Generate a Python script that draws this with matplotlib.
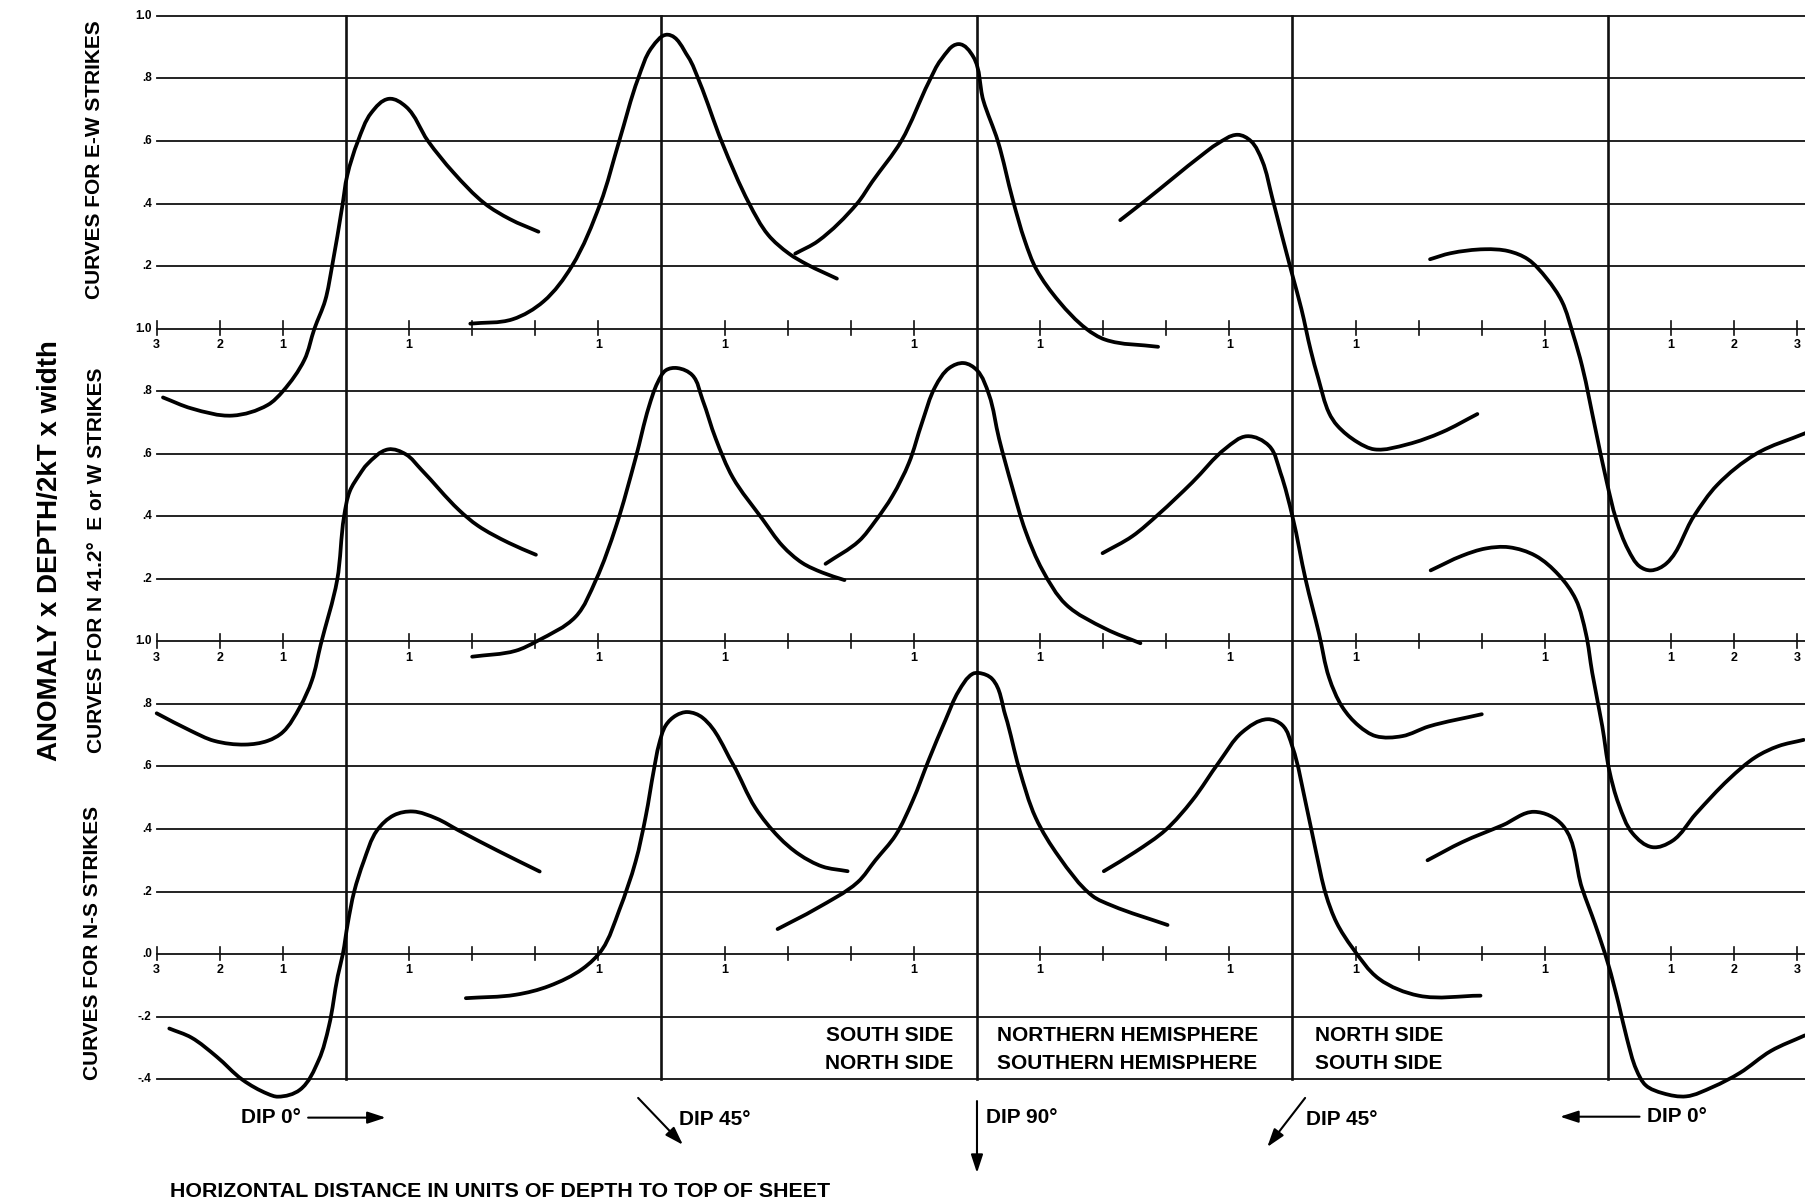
import math
import matplotlib
matplotlib.use("Agg")
import matplotlib.pyplot as plt
from matplotlib.path import Path
from matplotlib.patches import PathPatch

plt.rcParams['font.family'] = ['Liberation Sans', 'DejaVu Sans']

# curves: x in units of depth (dip lines at 0, 5, 10, 15, 20),
# y on each panel's own anomaly scale (panel zero line = its baseline)

# --- E-W strikes (top panel)
ew_dip0_l_x = [-2.9, -2.45, -1.8, -1.24, -1.0, -0.66, -0.5, -0.33, -0.22, -0.06, 0.02, 0.19, 0.4, 0.68, 0.95, 1.3, 1.7, 2.2, 2.6, 3.05]
ew_dip0_l_y = [-0.22, -0.255, -0.278, -0.244, -0.2, -0.10, 0.0, 0.09, 0.2, 0.39, 0.49, 0.6, 0.69, 0.735, 0.71, 0.6, 0.5, 0.4, 0.35, 0.31]
ew_dip45_l_x = [1.97, 2.64, 3.13, 3.58, 4.03, 4.33, 4.63, 4.85, 5.1, 5.42, 5.6, 5.96, 6.39, 6.69, 7.02, 7.31, 7.78]
ew_dip45_l_y = [0.016, 0.03, 0.087, 0.2, 0.4, 0.6, 0.80, 0.90, 0.94, 0.87, 0.79, 0.595, 0.40, 0.30, 0.24, 0.205, 0.16]
ew_dip90_x = [7.12, 7.48, 8.10, 8.34, 8.80, 9.24, 9.43, 9.71, 9.94, 10.1, 10.33, 10.57, 10.76, 10.94, 11.3, 11.73, 12.03, 12.87]
ew_dip90_y = [0.24, 0.28, 0.40, 0.47, 0.60, 0.79, 0.86, 0.91, 0.87, 0.73, 0.60, 0.41, 0.28, 0.19, 0.087, 0.0, -0.035, -0.058]
ew_dip45_r_x = [12.27, 12.67, 13.57, 13.8, 14.13, 14.34, 14.52, 14.68, 14.83, 15.0, 15.14, 15.29, 15.41, 15.58, 15.71, 16.03, 16.3, 16.82, 17.37, 17.93]
ew_dip45_r_y = [0.347, 0.41, 0.556, 0.59, 0.62, 0.60, 0.537, 0.418, 0.30, 0.17, 0.064, -0.07, -0.16, -0.27, -0.31, -0.363, -0.386, -0.37, -0.331, -0.273]
ew_dip0_r_x = [17.18, 17.5, 18.05, 18.42, 18.73, 19.03, 19.27, 19.45, 19.59, 19.8, 19.98, 20.13, 20.32, 20.5, 20.68, 20.93, 21.36, 21.73, 22.35, 23.13]
ew_dip0_r_y = [0.222, 0.241, 0.254, 0.248, 0.222, 0.16, 0.087, -0.02, -0.12, -0.32, -0.49, -0.61, -0.707, -0.76, -0.773, -0.75, -0.60, -0.50, -0.40, -0.334]

# --- N 41.2 E or W strikes (middle panel)
n41_dip0_l_x = [-3.0, -2.46, -2.09, -1.6, -1.24, -1.0, -0.73, -0.54, -0.40, -0.14, -0.03, 0.06, 0.22, 0.33, 0.67, 0.95, 1.19, 1.79, 2.09, 2.58, 3.01]
n41_dip0_l_y = [-0.23, -0.286, -0.318, -0.33, -0.318, -0.29, -0.21, -0.125, -0.01, 0.196, 0.40, 0.48, 0.535, 0.565, 0.614, 0.598, 0.55, 0.42, 0.37, 0.315, 0.277]
n41_dip45_l_x = [2.00, 2.69, 3.03, 3.64, 3.96, 4.28, 4.59, 4.80, 4.94, 5.07, 5.25, 5.49, 5.65, 5.86, 6.13, 6.6, 6.92, 7.23, 7.55, 7.9]
n41_dip45_l_y = [-0.049, -0.030, 0.001, 0.079, 0.196, 0.368, 0.586, 0.75, 0.828, 0.867, 0.874, 0.851, 0.773, 0.648, 0.524, 0.391, 0.305, 0.251, 0.22, 0.196]
n41_dip90_x = [7.6, 8.13, 8.39, 8.66, 8.92, 9.13, 9.34, 9.56, 9.79, 10.0, 10.19, 10.35, 10.56, 10.77, 11.04, 11.41, 12.04, 12.59]
n41_dip90_y = [0.248, 0.321, 0.385, 0.465, 0.57, 0.70, 0.815, 0.874, 0.89, 0.867, 0.789, 0.648, 0.492, 0.352, 0.227, 0.118, 0.040, -0.006]
n41_dip45_r_x = [11.99, 12.46, 12.88, 13.41, 13.94, 14.28, 14.63, 14.81, 15.0, 15.21, 15.42, 15.58, 15.79, 16.05, 16.32, 16.74, 17.16, 18.0]
n41_dip45_r_y = [0.282, 0.336, 0.407, 0.508, 0.617, 0.656, 0.625, 0.539, 0.399, 0.196, 0.025, -0.116, -0.21, -0.27, -0.303, -0.303, -0.272, -0.233]
n41_dip0_r_x = [17.19, 17.69, 18.06, 18.43, 18.85, 19.22, 19.49, 19.65, 19.75, 19.91, 20.02, 20.17, 20.39, 20.7, 21.02, 21.39, 21.92, 22.34, 22.7, 23.1]
n41_dip0_r_y = [0.227, 0.274, 0.297, 0.301, 0.274, 0.212, 0.134, 0.025, -0.10, -0.272, -0.412, -0.521, -0.614, -0.658, -0.638, -0.552, -0.44, -0.37, -0.335, -0.315]

# --- N-S strikes (bottom panel)
ns_dip0_l_x = [-2.8, -2.45, -2.05, -1.64, -1.24, -1.08, -0.73, -0.43, -0.27, -0.13, -0.05, 0.03, 0.13, 0.28, 0.49, 0.76, 1.06, 1.43, 1.79, 2.4, 3.07]
ns_dip0_l_y = [-0.238, -0.267, -0.328, -0.402, -0.447, -0.456, -0.434, -0.338, -0.23, -0.07, 0.0, 0.10, 0.2, 0.296, 0.395, 0.444, 0.456, 0.434, 0.395, 0.331, 0.264]
ns_dip45_l_x = [1.90, 2.69, 3.22, 3.75, 4.06, 4.33, 4.59, 4.75, 4.88, 4.96, 5.07, 5.23, 5.41, 5.65, 6.13, 6.49, 6.86, 7.18, 7.55, 7.95]
ns_dip45_l_y = [-0.141, -0.13, -0.102, -0.047, 0.015, 0.14, 0.296, 0.44, 0.59, 0.67, 0.732, 0.763, 0.774, 0.756, 0.608, 0.467, 0.374, 0.319, 0.28, 0.265]
ns_dip90_x = [6.84, 7.45, 8.11, 8.39, 8.71, 8.98, 9.24, 9.5, 9.71, 9.93, 10.03, 10.24, 10.45, 10.67, 10.93, 11.3, 11.83, 12.14, 13.02]
ns_dip90_y = [0.08, 0.145, 0.23, 0.30, 0.38, 0.49, 0.623, 0.748, 0.841, 0.896, 0.899, 0.88, 0.763, 0.592, 0.436, 0.311, 0.186, 0.155, 0.093]
ns_dip45_r_x = [12.01, 12.51, 12.99, 13.41, 13.84, 14.2, 14.6, 14.84, 15.0, 15.21, 15.37, 15.53, 15.7, 15.95, 16.37, 17.0, 17.98]
ns_dip45_r_y = [0.265, 0.327, 0.397, 0.491, 0.615, 0.709, 0.751, 0.732, 0.662, 0.483, 0.33, 0.19, 0.10, 0.02, -0.079, -0.133, -0.133]
ns_dip0_r_x = [17.14, 17.69, 18.33, 18.83, 19.28, 19.59, 19.8, 20.0, 20.17, 20.3, 20.45, 20.6, 20.87, 21.24, 21.66, 22.09, 22.58, 23.12]
ns_dip0_r_y = [0.3, 0.358, 0.412, 0.455, 0.412, 0.21, 0.093, -0.03, -0.16, -0.27, -0.37, -0.42, -0.445, -0.455, -0.425, -0.38, -0.31, -0.26]

# panel baselines on the common vertical scale
ew_base = 2.0
n41_base = 1.0
ns_base = 0.0

# grid rows and their labels (top to bottom)
row_pos = [3.0, 2.8, 2.6, 2.4, 2.2, 2.0, 1.8, 1.6, 1.4, 1.2, 1.0, 0.8, 0.6, 0.4, 0.2, 0.0, -0.2, -0.4]
row_text = ["1.0", ".8", ".6", ".4", ".2", "1.0", ".8", ".6", ".4", ".2",
            "1.0", ".8", ".6", ".4", ".2", ".0", "-.2", "-.4"]

dip_lines = [0, 5, 10, 15, 20]
tick_x = [-3, -2, -1, 1, 2, 3, 4, 6, 7, 8, 9, 11, 12, 13, 14, 16, 17, 18, 19, 21, 22, 23]
tick_lab_x = [-3, -2, -1, 1, 4, 6, 9, 11, 14, 16, 19, 21, 22, 23]
tick_lab = ["3", "2", "1", "1", "1", "1", "1", "1", "1", "1", "1", "1", "2", "3"]

# approximate pixels per data unit, used only to shape the curve handles
PX_X = 63.1
PX_Y = 312.7


def smooth_path(xs, ys):
    # cubic Bezier pieces through every read point, tangents from unit chords
    pts = [(x * PX_X, y * PX_Y) for x, y in zip(xs, ys)]
    n = len(pts)

    def unit(a, b):
        dx, dy = b[0] - a[0], b[1] - a[1]
        d = math.hypot(dx, dy) or 1.0
        return dx / d, dy / d

    tans = []
    for i in range(n):
        if i == 0:
            tans.append(unit(pts[0], pts[1]))
        elif i == n - 1:
            tans.append(unit(pts[-2], pts[-1]))
        else:
            a = unit(pts[i - 1], pts[i])
            b = unit(pts[i], pts[i + 1])
            tans.append(unit((0, 0), (a[0] + b[0], a[1] + b[1])))

    verts = [pts[0]]
    codes = [Path.MOVETO]
    for i in range(n - 1):
        p1, p2 = pts[i], pts[i + 1]
        L = math.hypot(p2[0] - p1[0], p2[1] - p1[1]) / 3
        c1 = (p1[0] + tans[i][0] * L, p1[1] + tans[i][1] * L)
        c2 = (p2[0] - tans[i + 1][0] * L, p2[1] - tans[i + 1][1] * L)
        verts += [c1, c2, p2]
        codes += [Path.CURVE4] * 3
    verts = [(vx / PX_X, vy / PX_Y) for vx, vy in verts]
    return Path(verts, codes)


fig = plt.figure(figsize=(18.06, 12.03), dpi=100)
ax = fig.add_axes([0, 0, 1, 1])
ax.set_xlim(-5.483, 23.138)
ax.set_ylim(-0.796, 3.051)
ax.axis('off')

ink = '#111111'

for y in row_pos:
    ax.plot([-3.0, 23.2], [y, y], color=ink, lw=1.3, zorder=1)
for x in dip_lines:
    ax.plot([x, x], [-0.4, 3.0], color=ink, lw=1.9, zorder=1)

for y, t in zip(row_pos, row_text):
    ax.text(-3.08, y, t, ha='right', va='center', fontsize=8.5, fontweight='bold')

for base in [ew_base, n41_base, ns_base]:
    for x in tick_x:
        ax.plot([x, x], [base - 0.02, base + 0.024], color=ink, lw=1.2, zorder=1)
    for x, t in zip(tick_lab_x, tick_lab):
        ax.text(x, base - 0.052, t, ha='center', va='center', fontsize=9, fontweight='bold')

curves = [
    (ew_dip0_l_x, ew_dip0_l_y, ew_base), (ew_dip45_l_x, ew_dip45_l_y, ew_base),
    (ew_dip90_x, ew_dip90_y, ew_base), (ew_dip45_r_x, ew_dip45_r_y, ew_base),
    (ew_dip0_r_x, ew_dip0_r_y, ew_base),
    (n41_dip0_l_x, n41_dip0_l_y, n41_base), (n41_dip45_l_x, n41_dip45_l_y, n41_base),
    (n41_dip90_x, n41_dip90_y, n41_base), (n41_dip45_r_x, n41_dip45_r_y, n41_base),
    (n41_dip0_r_x, n41_dip0_r_y, n41_base),
    (ns_dip0_l_x, ns_dip0_l_y, ns_base), (ns_dip45_l_x, ns_dip45_l_y, ns_base),
    (ns_dip90_x, ns_dip90_y, ns_base), (ns_dip45_r_x, ns_dip45_r_y, ns_base),
    (ns_dip0_r_x, ns_dip0_r_y, ns_base),
]
for xs, ys, base in curves:
    path = smooth_path(xs, [base + v for v in ys])
    ax.add_patch(PathPatch(path, fill=False, edgecolor='black', lw=2.7,
                           capstyle='round', joinstyle='round', zorder=3))

# side labels
ax.text(-4.69, 1.29, "ANOMALY x DEPTH/2kT x width", rotation=90, ha='center', va='center',
        fontsize=20, fontweight='bold')
ax.text(-3.98, 2.54, "CURVES FOR E-W STRIKES", rotation=90, ha='center', va='center',
        fontsize=15, fontweight='bold')
ax.text(-3.96, 1.26, "CURVES FOR N 41.2°  E or W STRIKES", rotation=90, ha='center', va='center',
        fontsize=15, fontweight='bold')
ax.text(-4.01, 0.035, "CURVES FOR N-S STRIKES", rotation=90, ha='center', va='center',
        fontsize=15, fontweight='bold')

# hemisphere notes
ax.text(9.62, -0.259, "SOUTH SIDE", ha='right', va='center', fontsize=15, fontweight='bold')
ax.text(9.62, -0.349, "NORTH SIDE", ha='right', va='center', fontsize=15, fontweight='bold')
ax.text(10.32, -0.259, "NORTHERN HEMISPHERE", ha='left', va='center', fontsize=15, fontweight='bold')
ax.text(10.32, -0.349, "SOUTHERN HEMISPHERE", ha='left', va='center', fontsize=15, fontweight='bold')
ax.text(15.35, -0.259, "NORTH SIDE", ha='left', va='center', fontsize=15, fontweight='bold')
ax.text(15.35, -0.349, "SOUTH SIDE", ha='left', va='center', fontsize=15, fontweight='bold')

# dip arrows
arrow = dict(arrowstyle='-|>,head_length=0.55,head_width=0.18', color='black', lw=1.5,
             shrinkA=0, shrinkB=0, mutation_scale=20)
ax.annotate('', xy=(0.63, -0.523), xytext=(-0.6, -0.523), arrowprops=arrow)
ax.text(-0.72, -0.523, "DIP 0°", ha='right', va='center', fontsize=15, fontweight='bold')
ax.annotate('', xy=(5.34, -0.61), xytext=(4.63, -0.46), arrowprops=arrow)
ax.text(5.28, -0.53, "DIP 45°", ha='left', va='center', fontsize=15, fontweight='bold')
ax.annotate('', xy=(10.0, -0.70), xytext=(10.0, -0.47), arrowprops=arrow)
ax.text(10.14, -0.523, "DIP 90°", ha='left', va='center', fontsize=15, fontweight='bold')
ax.annotate('', xy=(14.6, -0.617), xytext=(15.2, -0.46), arrowprops=arrow)
ax.text(15.22, -0.53, "DIP 45°", ha='left', va='center', fontsize=15, fontweight='bold')
ax.annotate('', xy=(19.24, -0.52), xytext=(20.5, -0.52), arrowprops=arrow)
ax.text(20.62, -0.52, "DIP 0°", ha='left', va='center', fontsize=15, fontweight='bold')

ax.text(-2.79, -0.758, "HORIZONTAL DISTANCE IN UNITS OF DEPTH TO TOP OF SHEET", ha='left', va='center',
        fontsize=15.4, fontweight='bold')

fig.savefig("out.png", dpi=100, facecolor='white')
